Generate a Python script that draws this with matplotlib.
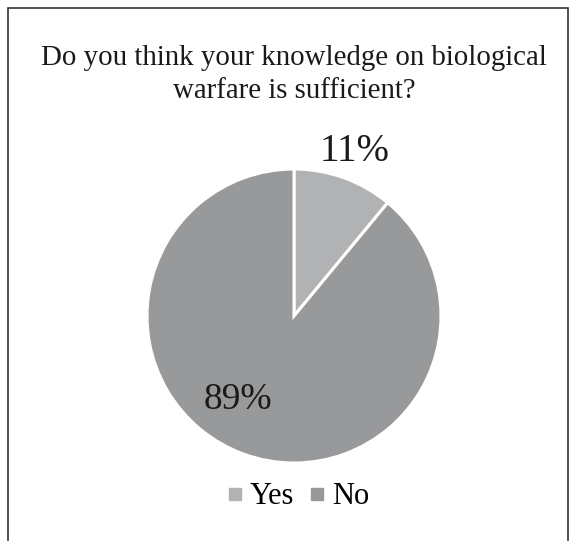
import numpy as np
import matplotlib.pyplot as plt
from matplotlib.patches import Rectangle

plt.rcParams['font.family'] = ['Liberation Serif', 'DejaVu Serif']

labels = ['Yes', 'No']
values = [11, 89]
colors = ['#b1b2b4', '#98999b']
title_lines = ['Do you think your knowledge on biological', 'warfare is sufficient?']

W, H = 572, 541
fig = plt.figure(figsize=(W / 100, H / 100), dpi=100)

# outer frame
fig.patches.append(Rectangle((8 / W, -0.01), (568 - 8) / W, 1 - 8 / H + 0.01,
                             transform=fig.transFigure, fill=False,
                             edgecolor='#333333', linewidth=1.2))

cx, cy, r = 294, 316, 147
ax = fig.add_axes([(cx - r) / W, (H - cy - r) / H, 2 * r / W, 2 * r / H])
wedges, _ = ax.pie(values, colors=colors, startangle=90, counterclock=False,
                   wedgeprops=dict(edgecolor='white', linewidth=2.2))
ax.set_xlim(-1, 1)
ax.set_ylim(-1, 1)
ax.set_aspect('equal')
ax.axis('off')

# percentage labels
ax.text(0.41, 1.12, f'{values[0]}%', ha='center', va='center', fontsize=28, color='#1a1a1a')
ax.text(-0.38, -0.57, f'{values[1]}%', ha='center', va='center', fontsize=27, color='#1a1a1a')

# title, two lines
for line, base in zip(title_lines, [65, 98]):
    fig.text(cx / W, 1 - base / H, line, ha='center', va='baseline',
             fontsize=20.8, color='#1a1a1a')

handles = [plt.Line2D([], [], marker='s', linestyle='', markersize=8,
                      markerfacecolor=c, markeredgecolor=c) for c in colors]
fig.legend(handles, labels, loc='center', bbox_to_anchor=(cx / W + 0.005, 1 - 497 / H),
           ncol=2, frameon=False, fontsize=22, handletextpad=0.15,
           columnspacing=0.4, handlelength=0.7)

fig.savefig('out.png', dpi=100, facecolor='white')
